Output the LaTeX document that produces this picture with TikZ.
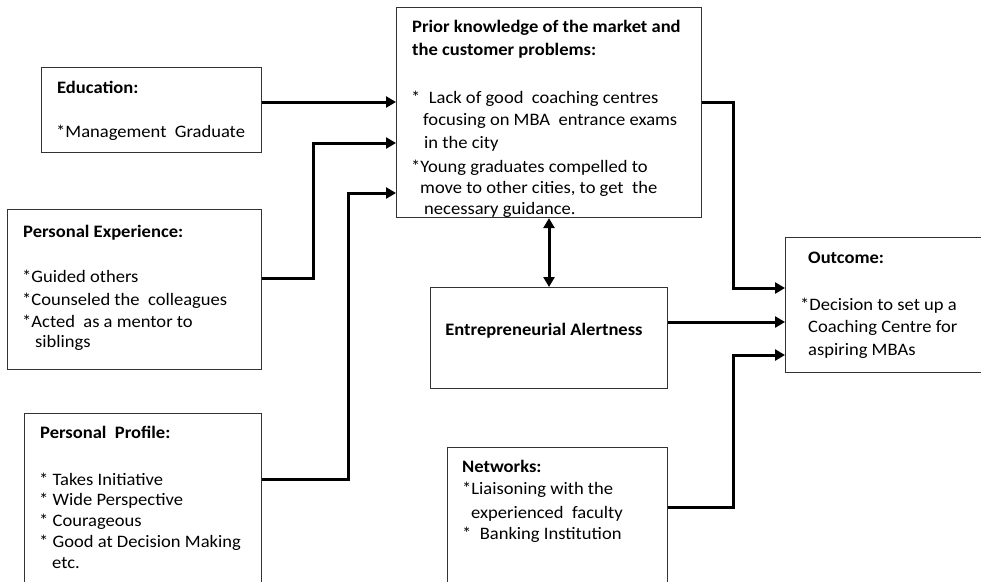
\documentclass[tikz,border=0pt]{standalone}
\usepackage{fontspec}
\setmainfont[FakeStretch=1.06]{Carlito}
\usetikzlibrary{arrows.meta}
\begin{document}
\begin{tikzpicture}[x=1pt,y=-1pt,
  box/.style={draw=black!80,line width=1.1pt,rectangle,inner sep=0pt,anchor=north west,fill=white},
  txt/.style={anchor=base west,inner sep=0pt,font=\fontsize{17.5}{22}\selectfont},
  ttl/.style={txt,font=\fontsize{17.5}{22}\selectfont\bfseries},
  arr/.style={line width=3pt,line join=miter,-{Triangle[length=10pt,width=11pt]}},
  darr/.style={line width=3pt,{Triangle[length=10pt,width=11pt]}-{Triangle[length=10pt,width=11pt]}}]
\useasboundingbox (0,0) rectangle (981,581);
\clip (0,0) rectangle (981,581);
% boxes
\node[box,minimum width=220pt,minimum height=85pt] (edu) at (41,67) {};
\node[box,minimum width=254pt,minimum height=160pt] (pe) at (7,209) {};
\node[box,minimum width=237pt,minimum height=180pt] (pp) at (24,413) {};
\node[box,minimum width=305pt,minimum height=210pt] (prior) at (396,7) {};
\node[box,minimum width=237pt,minimum height=101pt] (ea) at (430,287) {};
\node[box,minimum width=210pt,minimum height=135pt] (out) at (785,237) {};
\node[box,minimum width=220pt,minimum height=150pt] (net) at (447,447) {};
% texts
\node[ttl] (t1) at (57,93) {Education:};
\node[txt] (t2) at (56,137) {*Management\ \ Graduate};
\node[ttl] (t3) at (23,237) {Personal Experience:};
\node[txt] (t4) at (22,282) {*Guided others};
\node[txt] (t5) at (22,305) {*Counseled the\ \ colleagues};
\node[txt] (t6) at (22,327) {*Acted\ \ as a mentor\ to};
\node[txt] (t7) at (35,347) {siblings};
\node[ttl] (t8) at (40,438) {Personal\ \ Profile:};
\node[txt] (t9) at (39,485) {* Takes Initiative};
\node[txt] (t10) at (39,505) {* Wide Perspective};
\node[txt] (t11) at (39,526) {* Courageous};
\node[txt] (t12) at (39,547) {* Good at Decision Making};
\node[txt] (t13) at (52,568) {etc.};
\node[ttl] (t14) at (412,32) {Prior knowledge of the market and};
\node[ttl] (t15) at (412,55) {the customer problems:};
\node[txt] (t16) at (411,103) {*\ \ Lack of good\ \ coaching centres};
\node[txt] (t17) at (423,125) {focusing on MBA\ \ entrance exams};
\node[txt] (t18) at (424,148) {in the city};
\node[txt] (t19) at (411,172) {*Young graduates compelled to};
\node[txt] (t20) at (420,193) {move to other cities, to get\ \ the};
\node[txt] (t21) at (424,214) {necessary guidance.};
\node[ttl,anchor=base] (t22) at (544,335) {Entrepreneurial Alertness};
\node[ttl] (t23) at (808,263) {Outcome:};
\node[txt] (t24) at (800,310) {*Decision to set up a};
\node[txt] (t25) at (808,332) {Coaching Centre for};
\node[txt] (t26) at (808,355) {aspiring MBAs};
\node[ttl] (t27) at (462,472) {Networks:};
\node[txt] (t28) at (462,494) {*Liaisoning with the};
\node[txt] (t29) at (471,518) {experienced\ \ faculty};
\node[txt] (t30) at (462,539) {*\ \ Banking Institution};
% connectors
\draw[arr] (edu.east|-0,102) -- (prior.west|-0,102);
\draw[arr] (pe.east|-0,278) -| (313,143) -- (prior.west|-0,143);
\draw[arr] (pp.east|-0,479) -| (348,193) -- (prior.west|-0,193);
\draw[darr] (prior.south-|549,0) -- (ea.north-|549,0);
\draw[arr] (prior.east|-0,102) -| (733,288) -- (out.west|-0,288);
\draw[arr] (ea.east|-0,322) -- (out.west|-0,322);
\draw[arr] (net.east|-0,507) -| (733,355) -- (out.west|-0,355);
\end{tikzpicture}
\end{document}
